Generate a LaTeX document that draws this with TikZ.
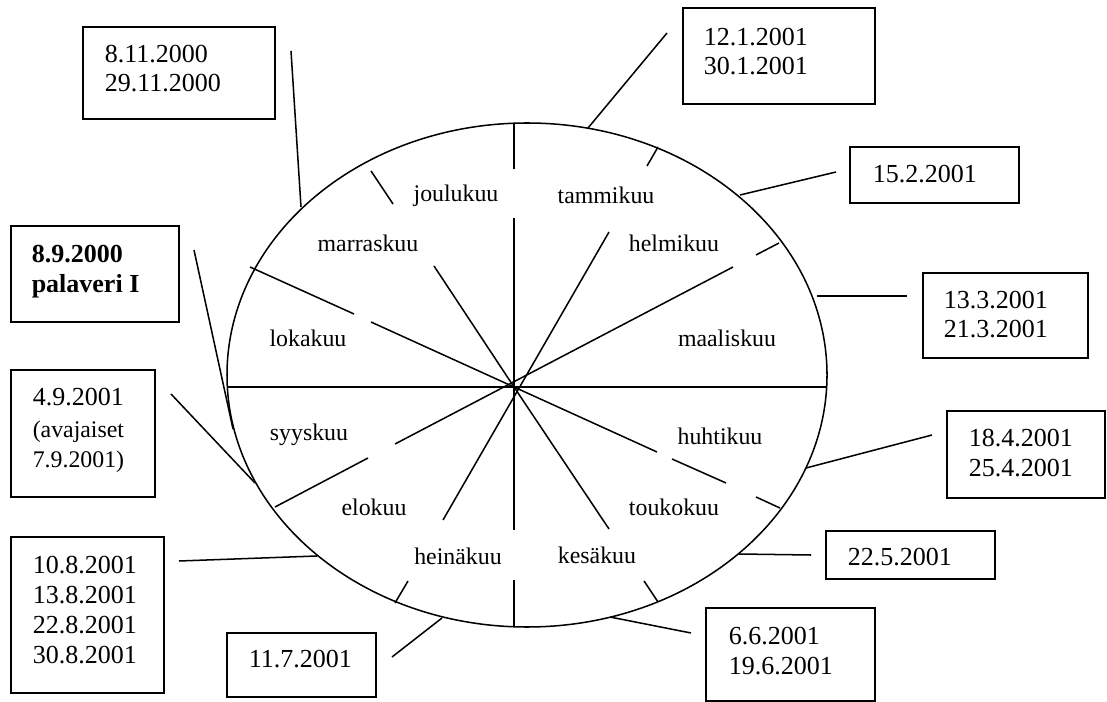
\documentclass[tikz,border=0pt]{standalone}
\usepackage{fontspec}
\setmainfont{Liberation Serif}
\usetikzlibrary{fit}

\begin{document}
\begin{tikzpicture}[x=0.4615pt,y=-0.4615pt,line width=0.7pt,
    datebox/.style={draw,line width=0.85pt,inner sep=0pt},
    datetext/.style={anchor=base west,inner sep=0pt,align=left,
                     font=\fontsize{12}{13.8}\selectfont},
    month/.style={inner sep=0pt,font=\fontsize{11}{12.65}\selectfont}]
  \useasboundingbox (0,0) rectangle (1107,702);

  % the year wheel
  \draw (527,375) ellipse [x radius=300,y radius=252];
  \coordinate (hub) at (514,387);
  \draw (514,123) -- (514,169) (514,218) -- (hub) -- (514,530) (514,580) -- (514,627);
  \draw (227,387) -- (827,387);
  \draw (250,267) -- (354,314) (371,322) -- (hub) -- (657,452)
        (672,459) -- (726,483) (756,497) -- (780,508);
  \draw (779,243) -- (756,255) (733,267) -- (395,444) (368,458) -- (275,507);
  \draw (371,171) -- (393,204) (434,266) -- (hub) -- (609,529) (644,581) -- (658,602);
  \draw (658,147) -- (647,166) (609,232) -- (443,520) (408,581) -- (395,603);

  % month names
  \foreach \n/\x/\y/\t in {jou/456/196/joulukuu, tam/606/195/tammikuu,
                           mar/368/243/marraskuu, hel/674/243/helmikuu,
                           lok/308/338/lokakuu, maa/727/338/maaliskuu,
                           syy/309/435/syyskuu, huh/720/436/huhtikuu,
                           elo/374/507/elokuu, tou/674/507/toukokuu,
                           hei/458/556/heinäkuu, kes/597/555/kesäkuu}
     \node[month] (\n) at (\x,\y) {\t};

  % meeting boxes
  \foreach \n/\xa/\ya/\xb/\yb in {nov/83/27/275/119, sep/11/226/179/322,
                                  jan/683/8/875/104, feb/850/147/1019/203,
                                  mrc/923/273/1088/358, apr/947/411/1105/498,
                                  may/826/531/995/579, jun/706/608/875/701,
                                  jul/227/633/376/697, aug/11/537/164/693,
                                  opn/11/370/155/497}
     \node[datebox,fit={(\xa,\ya) (\xb,\yb)}] (\n) {};

  % texts, placed at the baseline of their last line
  \foreach \n/\x/\y/\t in {nov/104/92/{8.11.2000\\29.11.2000},
                           jan/703/75/{12.1.2001\\30.1.2001},
                           feb/872/183/{15.2.2001},
                           mrc/943/338/{13.3.2001\\21.3.2001},
                           apr/968/476/{18.4.2001\\25.4.2001},
                           may/847/565/{22.5.2001},
                           jun/728/674/{6.6.2001\\19.6.2001},
                           jul/248/667/{11.7.2001},
                           aug/32/663/{10.8.2001\\13.8.2001\\22.8.2001\\30.8.2001}}
     \node[datetext] (\n txt) at (\x,\y) {\t};
  \node[datetext,font=\fontsize{12}{14.3}\selectfont\bfseries] (septxt) at (31,293)
       {8.9.2000\\palaveri I};
  \node[datetext] (opntxt) at (32,467)
       {4.9.2001\\[1pt]\fontsize{11}{14.3}\selectfont (avajaiset\\
        \fontsize{11}{14.3}\selectfont 7.9.2001)};

  % connectors from the boxes to the wheel
  \foreach \i/\xa/\ya/\xb/\yb in {1/291/51/301/207, 2/194/250/233/429,
                                  3/667/33/588/128, 4/836/172/740/195,
                                  5/907/296/817/296, 6/932/435/806/468,
                                  7/811/555/739/554, 8/691/633/610/617,
                                  9/392/657/442/618, 10/179/561/317/556,
                                  11/171/394/255/483}{
     \coordinate (l\i a) at (\xa,\ya);
     \coordinate (l\i b) at (\xb,\yb);
     \draw (l\i a) -- (l\i b);}
\end{tikzpicture}
\end{document}
